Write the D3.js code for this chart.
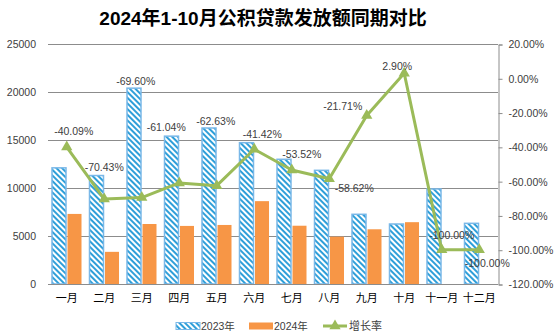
<!DOCTYPE html>
<html>
<head>
<meta charset="utf-8">
<script src="https://cdn.jsdelivr.net/npm/d3@7"></script>
<style>
  body { margin: 0; background: #fff; }
  svg text { font-family: "Liberation Sans", Arial, "Noto Sans CJK SC", sans-serif; fill: #404040; }
</style>
</head>
<body>
<svg id="chart" width="554" height="336"></svg>
<script>
var months = ["一月", "二月", "三月", "四月", "五月", "六月", "七月", "八月", "九月", "十月", "十一月", "十二月"];
var loans2023 = [12100, 11300, 20400, 15400, 16250, 14720, 12990, 11840, 7260, 6250, 9900, 6320];
var loans2024 = [7300, 3350, 6250, 6050, 6150, 8630, 6070, 4930, 5700, 6440, 0, 0];
var growth = [-40.09, -70.43, -69.60, -61.04, -62.63, -41.42, -53.52, -58.62, -21.71, 2.90, -100.00, -100.00];
var leftTicks = [0, 5000, 10000, 15000, 20000, 25000];
var rightTicks = [20, 0, -20, -40, -60, -80, -100, -120];

// label nudges for the growth line (px from the marker)
var labelShift = [[7, -16], [0, -32], [-6, -116], [-13, -56], [-1, -64], [8, -15],
                  [10, -16], [25, 10], [-24, -9], [-7, -7], [10, -14], [8, 14]];

var svg = d3.select("#chart");
var plotL = 48, plotR = 498, plotT = 44, plotB = 284;

var x = d3.scaleBand().domain(months).range([plotL, plotR]);
var yL = d3.scaleLinear().domain([0, 25000]).range([plotB, plotT]);
var yR = d3.scaleLinear().domain([-120, 20]).range([plotB, plotT]);

// hatch for the 2023 bars
var defs = svg.append("defs");
var pat = defs.append("pattern")
  .attr("id", "hatch")
  .attr("patternUnits", "userSpaceOnUse")
  .attr("width", 4).attr("height", 4)
  .attr("patternTransform", "rotate(-45)");
pat.append("rect").attr("width", 4).attr("height", 4).attr("fill", "#fff");
pat.append("rect").attr("width", 2).attr("height", 4).attr("fill", "#2f9fd9");

svg.append("text")
  .attr("x", 263).attr("y", 25)
  .attr("text-anchor", "middle")
  .style("font-size", "19px").style("font-weight", "bold")
  .style("fill", "#000")
  .text("2024年1-10月公积贷款发放额同期对比");

// gridlines
svg.append("g").selectAll("line")
  .data(leftTicks.slice(1))
  .enter().append("line")
  .attr("x1", plotL).attr("x2", plotR)
  .attr("y1", function(d) { return yL(d) + 0.5; })
  .attr("y2", function(d) { return yL(d) + 0.5; })
  .attr("stroke", "#8c8c8c").attr("stroke-width", 1);

// left axis
var axL = svg.append("g")
  .attr("transform", "translate(" + plotL + ",0.5)")
  .call(d3.axisLeft(yL).tickValues(leftTicks).tickSize(0).tickPadding(12)
    .tickFormat(d3.format("d")));
axL.select(".domain").remove();
axL.selectAll("text").style("font-size", "10.5px").style("fill", "#404040");

// right axis
var axR = svg.append("g")
  .attr("transform", "translate(" + (plotR + 0.5) + ",0.5)")
  .call(d3.axisRight(yR).tickValues(rightTicks).tickSize(4).tickPadding(6)
    .tickFormat(function(d) { return d.toFixed(2) + "%"; }));
axR.select(".domain").attr("stroke", "#8c8c8c");
axR.selectAll(".tick line").attr("stroke", "#8c8c8c");
axR.selectAll("text").style("font-size", "10.5px").style("fill", "#404040");

// bars
var barW = 14, barGap = 0.75;
svg.append("g").selectAll("rect")
  .data(loans2023)
  .enter().append("rect")
  .attr("x", function(d, i) { return x(months[i]) + x.bandwidth() / 2 - barGap - barW; })
  .attr("y", function(d) { return yL(d); })
  .attr("width", barW)
  .attr("height", function(d) { return plotB - yL(d); })
  .attr("fill", "url(#hatch)")
  .attr("stroke", "#7ab8e8").attr("stroke-width", 1.5);

svg.append("g").selectAll("rect")
  .data(loans2024)
  .enter().append("rect")
  .attr("x", function(d, i) { return x(months[i]) + x.bandwidth() / 2 + barGap; })
  .attr("y", function(d) { return yL(d); })
  .attr("width", barW)
  .attr("height", function(d) { return plotB - yL(d); })
  .attr("fill", "#f79646");

// x axis
var axX = svg.append("g")
  .attr("transform", "translate(0," + (plotB + 0.5) + ")")
  .call(d3.axisBottom(x).tickSize(0).tickPadding(10));
axX.select(".domain").attr("stroke", "#8c8c8c").attr("d", "M" + plotL + ",0H" + plotR);
axX.selectAll("text").style("font-size", "11px").style("fill", "#000")
  .style("font-family", "'Noto Sans CJK SC', sans-serif");

// growth line
var cx = function(d, i) { return x(months[i]) + x.bandwidth() / 2; };
var line = d3.line().x(cx).y(function(d) { return yR(d); });
svg.append("path")
  .datum(growth)
  .attr("d", line)
  .attr("fill", "none")
  .attr("stroke", "#9bbb59").attr("stroke-width", 3)
  .attr("stroke-linejoin", "round");

var tri = d3.symbol().type(d3.symbolTriangle).size(55);
svg.append("g").selectAll("path")
  .data(growth)
  .enter().append("path")
  .attr("d", tri)
  .attr("transform", function(d, i) { return "translate(" + cx(d, i) + "," + yR(d) + ")"; })
  .attr("fill", "#9bbb59");

svg.append("g").selectAll("text")
  .data(growth)
  .enter().append("text")
  .attr("x", function(d, i) { return cx(d, i) + labelShift[i][0]; })
  .attr("y", function(d, i) { return yR(d) + labelShift[i][1]; })
  .attr("dy", "0.35em")
  .attr("text-anchor", "middle")
  .style("font-size", "10.5px")
  .text(function(d) { return d.toFixed(2) + "%"; });

// legend
var lg = svg.append("g").attr("transform", "translate(0,326)");
lg.append("rect").attr("x", 176).attr("y", -3.5).attr("width", 24).attr("height", 7)
  .attr("fill", "url(#hatch)").attr("stroke", "#7ab8e8");
lg.append("text").attr("x", 201).attr("y", 0).attr("dy", "0.35em")
  .style("font-size", "10.5px").text("2023年");
lg.append("rect").attr("x", 249).attr("y", -3.5).attr("width", 24).attr("height", 7)
  .attr("fill", "#f79646");
lg.append("text").attr("x", 274).attr("y", 0).attr("dy", "0.35em")
  .style("font-size", "10.5px").text("2024年");
lg.append("line").attr("x1", 323).attr("x2", 347).attr("y1", 0).attr("y2", 0)
  .attr("stroke", "#9bbb59").attr("stroke-width", 3);
lg.append("path").attr("d", tri).attr("transform", "translate(335,0)").attr("fill", "#9bbb59");
lg.append("text").attr("x", 349).attr("y", 0).attr("dy", "0.35em")
  .style("font-size", "11px").text("增长率");
</script>
</body>
</html>
